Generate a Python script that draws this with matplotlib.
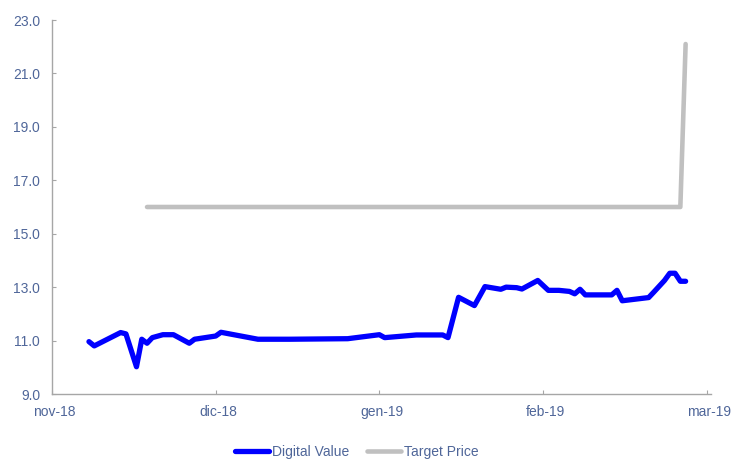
import matplotlib
matplotlib.use("Agg")
import matplotlib.pyplot as plt
import matplotlib.transforms as mtransforms
import pandas as pd

# ---- data ----
dv_dates = ["2018-11-08", "2018-11-09", "2018-11-14", "2018-11-15", "2018-11-17",
            "2018-11-18", "2018-11-19", "2018-11-20", "2018-11-22", "2018-11-24",
            "2018-11-27", "2018-11-28", "2018-12-02", "2018-12-03", "2018-12-10",
            "2018-12-16", "2018-12-27", "2019-01-02", "2019-01-03", "2019-01-09",
            "2019-01-14", "2019-01-15", "2019-01-17", "2019-01-20", "2019-01-22",
            "2019-01-25", "2019-01-26", "2019-01-28", "2019-01-29", "2019-02-01",
            "2019-02-03", "2019-02-05", "2019-02-07", "2019-02-08", "2019-02-09",
            "2019-02-10", "2019-02-15", "2019-02-16", "2019-02-17", "2019-02-22",
            "2019-02-23", "2019-02-25", "2019-02-26", "2019-02-27", "2019-02-28",
            "2019-03-01"]
dv_values = [10.96, 10.80, 11.30, 11.25, 10.02,
             11.05, 10.90, 11.11, 11.22, 11.22,
             10.90, 11.05, 11.17, 11.31, 11.05,
             11.05, 11.07, 11.22, 11.11, 11.21,
             11.21, 11.11, 12.62, 12.31, 13.02,
             12.92, 13.00, 12.98, 12.93, 13.25,
             12.88, 12.88, 12.84, 12.75, 12.92,
             12.71, 12.71, 12.88, 12.49, 12.61,
             12.82, 13.25, 13.52, 13.52, 13.22,
             13.22]

tp_dates = ["2018-11-19", "2019-02-28", "2019-03-01"]
tp_values = [16.0, 16.0, 22.1]

tick_dates = ["2018-11-01", "2018-12-02", "2019-01-02", "2019-02-02", "2019-03-05"]
tick_labels = ["nov-18", "dic-18", "gen-19", "feb-19", "mar-19"]
y_ticks = [9.0, 11.0, 13.0, 15.0, 17.0, 19.0, 21.0, 23.0]

series_names = ["Digital Value", "Target Price"]

# ---- style ----
TXT = "#4F6699"
SPINE = "#A6A6A6"
plt.rcParams['font.family'] = ['Liberation Sans', 'DejaVu Sans']

fig = plt.figure(figsize=(7.31, 4.59), dpi=100)
ax = fig.add_axes([52 / 731, 1 - 394 / 459, (710.7 - 52) / 731, (394 - 20) / 459])

ax.plot(pd.to_datetime(dv_dates), dv_values, color="#0000FF", lw=3.8,
        solid_joinstyle="round", solid_capstyle="round", label=series_names[0], zorder=3)
ax.plot(pd.to_datetime(tp_dates), tp_values, color="#C0C0C0", lw=3.3,
        solid_joinstyle="round", solid_capstyle="round", label=series_names[1], zorder=2)

x0 = pd.Timestamp(tick_dates[0])
x1 = pd.Timestamp(tick_dates[-1]) + pd.Timedelta(hours=18)
ax.set_xlim(x0, x1)
ax.set_ylim(y_ticks[0], y_ticks[-1])

ax.set_xticks(pd.to_datetime(tick_dates))
ax.set_xticklabels(tick_labels)
ax.set_yticks(y_ticks)
ax.set_yticklabels([f"{v:.1f}" for v in y_ticks])

for s in ["top", "right"]:
    ax.spines[s].set_visible(False)
for s in ["left", "bottom"]:
    ax.spines[s].set_color(SPINE)
    ax.spines[s].set_linewidth(1.0)

ax.tick_params(axis="both", direction="in", length=3, width=0.8, color=SPINE,
               labelcolor=TXT, labelsize=10)
ax.tick_params(axis="y", pad=8.5)
ax.tick_params(axis="x", pad=8)

shift = mtransforms.ScaledTranslation(2.5 / 100, 0, fig.dpi_scale_trans)
for lbl in ax.get_xticklabels():
    lbl.set_transform(lbl.get_transform() + shift)

leg = fig.legend(loc="center", bbox_to_anchor=(357 / 731, 1 - 452 / 459), ncol=2,
                 frameon=False, fontsize=10, handlelength=2.4, handletextpad=0.25,
                 columnspacing=1.3, borderpad=0.0)
for t in leg.get_texts():
    t.set_color(TXT)

fig.savefig("out.png", dpi=100)
